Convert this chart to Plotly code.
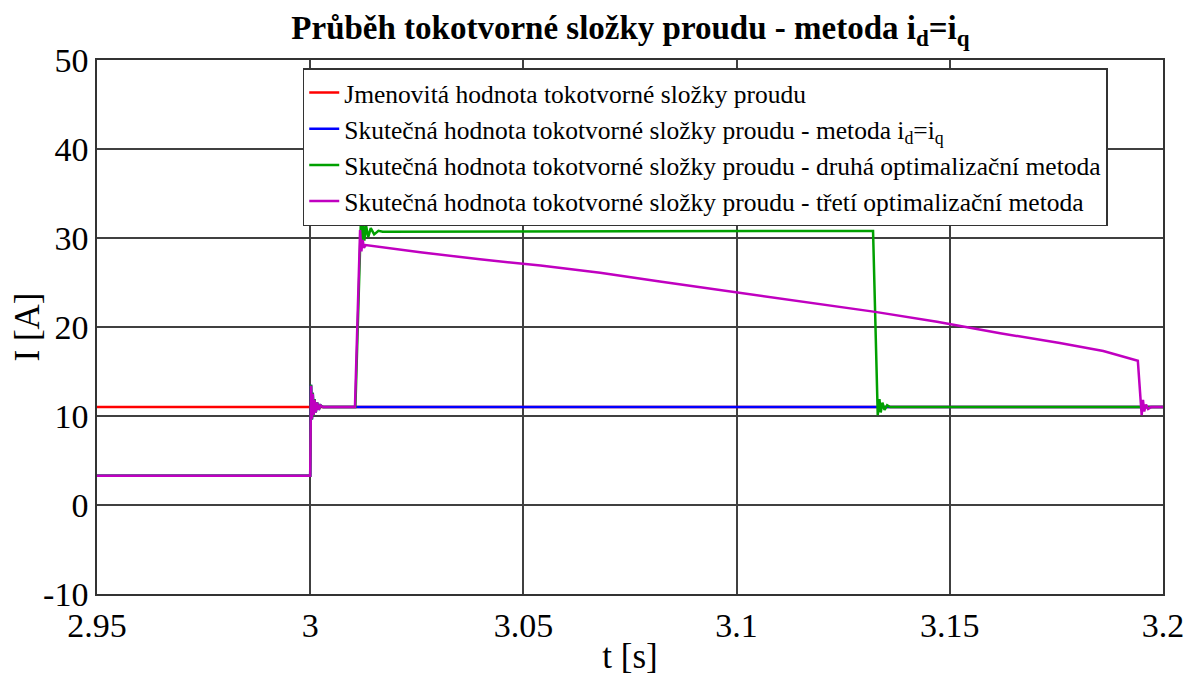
import plotly.graph_objects as go

# ---- data ----
ref_t = [2.95, 3.2]
ref_v = [11.0, 11.0]

blue_t = [2.95, 3.0, 3.0002, 3.0004, 3.0006, 3.0008, 3.0010, 3.0013, 3.0016, 3.0020, 3.0024, 3.0030, 3.2]
blue_v = [3.3, 3.3, 13.5, 9.6, 12.6, 10.0, 11.9, 10.4, 11.5, 10.7, 11.2, 11.0, 11.0]

green_t = [2.95, 3.0, 3.0002, 3.0004, 3.0006, 3.0008, 3.0010, 3.0013, 3.0016, 3.0020, 3.0024, 3.0030,
           3.0106, 3.0119, 3.0121, 3.0124, 3.0127, 3.0131, 3.0136, 3.0142, 3.0150, 3.0160, 3.0170,
           3.1320, 3.1331, 3.1335, 3.1338, 3.1342, 3.1347, 3.1353, 3.1360, 3.2]
green_v = [3.3, 3.3, 13.5, 9.6, 12.6, 10.0, 11.9, 10.4, 11.5, 10.7, 11.2, 11.0,
           11.0, 32.1, 29.3, 31.8, 29.7, 31.4, 30.1, 31.1, 30.4, 30.8, 30.7,
           30.8, 10.1, 11.9, 10.4, 11.5, 10.7, 11.2, 11.0, 11.0]

mag_t = [2.95, 3.0, 3.0002, 3.0004, 3.0006, 3.0008, 3.0010, 3.0013, 3.0016, 3.0020, 3.0024, 3.0030,
         3.0105, 3.0117, 3.0120, 3.0123, 3.0126, 3.0130,
         3.0258, 3.0398, 3.0540, 3.0680, 3.0820, 3.0999, 3.1069, 3.1200, 3.1325, 3.1470, 3.1618,
         3.1758, 3.1860, 3.1941,
         3.1950, 3.1953, 3.1956, 3.1960, 3.1965, 3.1972, 3.2]
mag_v = [3.3, 3.3, 13.4, 9.7, 12.5, 10.1, 11.8, 10.4, 11.5, 10.7, 11.2, 11.0,
         11.0, 30.9, 28.5, 29.8, 28.9, 29.2,
         28.4, 27.6, 26.9, 26.1, 25.1, 23.9, 23.4, 22.6, 21.7, 20.6, 19.3,
         18.2, 17.3, 16.2,
         10.1, 11.8, 10.5, 11.3, 10.8, 11.0, 11.0]

x_ticks = [2.95, 3.0, 3.05, 3.1, 3.15, 3.2]
x_labels = ["2.95", "3", "3.05", "3.1", "3.15", "3.2"]
y_ticks = [-10, 0, 10, 20, 30, 40, 50]
y_labels = ["-10", "0", "10", "20", "30", "40", "50"]

names = [
    "Jmenovitá hodnota tokotvorné složky proudu",
    "Skutečná hodnota tokotvorné složky proudu - metoda i<sub>d</sub>=i<sub>q</sub>",
    "Skutečná hodnota tokotvorné složky proudu - druhá optimalizační metoda",
    "Skutečná hodnota tokotvorné složky proudu - třetí optimalizační metoda",
]

FONT = "Liberation Serif"

fig = go.Figure()
fig.add_trace(go.Scatter(x=ref_t, y=ref_v, mode="lines", name=names[0],
                         line=dict(color="#ff0000", width=2.5)))
fig.add_trace(go.Scatter(x=blue_t, y=blue_v, mode="lines", name=names[1],
                         line=dict(color="#0000ff", width=2.5)))
fig.add_trace(go.Scatter(x=green_t, y=green_v, mode="lines", name=names[2],
                         line=dict(color="#00a000", width=2.5)))
fig.add_trace(go.Scatter(x=mag_t, y=mag_v, mode="lines", name=names[3],
                         line=dict(color="#c000c0", width=2.5)))

fig.update_layout(
    width=1188, height=668,
    margin=dict(l=89, r=33, t=52, b=82),
    paper_bgcolor="white", plot_bgcolor="white",
    font=dict(family=FONT, color="black", size=24),
    title=dict(text="<b>Průběh tokotvorné složky proudu - metoda i<sub>d</sub>=i<sub>q</sub></b>",
               x=0.524, xanchor="center", y=0.988, yanchor="top",
               font=dict(family=FONT, size=33, color="black")),
    showlegend=True,
    legend=dict(x=0.193, y=0.985, xanchor="left", yanchor="top",
                bgcolor="white", bordercolor="#333333", borderwidth=1.5,
                font=dict(family=FONT, size=25.5, color="black"),
                tracegroupgap=0, itemwidth=30),
)
fig.update_xaxes(range=[2.95, 3.2], tickvals=x_ticks, ticktext=x_labels,
                 showgrid=True, gridcolor="#404040", gridwidth=1.5,
                 showline=True, linecolor="#333333", linewidth=1.5, mirror=True,
                 ticks="", zeroline=False, automargin=False,
                 tickfont=dict(family=FONT, size=34),
                 title=dict(text="t [s]", font=dict(family=FONT, size=35)))
fig.update_yaxes(range=[-10, 50], tickvals=y_ticks, ticktext=y_labels,
                 showgrid=True, gridcolor="#404040", gridwidth=1.5,
                 showline=True, linecolor="#333333", linewidth=1.5, mirror=True,
                 ticks="", zeroline=False, automargin=False,
                 tickfont=dict(family=FONT, size=34),
                 title=dict(text="I [A]", font=dict(family=FONT, size=35)))

fig.write_html("out.html")
